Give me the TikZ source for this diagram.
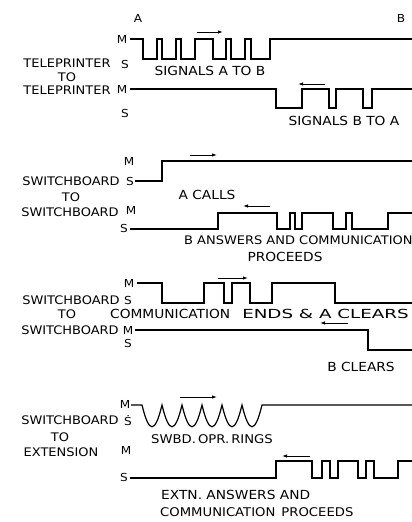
\documentclass[tikz,border=0pt]{standalone}
\usepackage{fontspec}
\usepackage{graphicx}
\setmainfont{DejaVu Sans}
\usetikzlibrary{arrows.meta}
\newfontfamily\lettering[FakeStretch=1.1]{DejaVu Sans}

\begin{document}
\begin{tikzpicture}[x=1pt, y=-1pt,
  wave/.style={line width=1.2pt, line join=miter},
  dirarrow/.style={line width=0.9pt, -{Latex[length=5pt,width=3.5pt]}},
  ms/.style={font=\lettering\fontsize{11}{12}\selectfont, inner sep=0pt},
  side/.style={font=\lettering\fontsize{11.8}{13}\selectfont, inner sep=0pt},
  note/.style={font=\lettering\fontsize{12.5}{13}\selectfont, inner sep=0pt}
]
  \useasboundingbox (0,0) rectangle (412,522);
  % Ends
  \node[ms] (enda) at (138,18) {A};
  \node[ms] (endb) at (401,18) {B};

  % Teleprinter to teleprinter
  \node[side] (tp1) at (67,63) {TELEPRINTER};
  \node[side] (tp2) at (67,77) {TO};
  \node[side] (tp3) at (67,90) {TELEPRINTER};
  \node[ms] (m1) at (122,39) {M};
  \node[ms] (s1) at (125,64) {S};
  \node[ms] (m2) at (122,89) {M};
  \node[ms] (s2) at (125,113) {S};
  \draw[wave] (130,39) -| (143,59) -| (157,39) -| (162,59) -| (176,39) -| (181,59) -| (195,39)
    -| (213,59) -| (226,39) -| (231,59) -| (245,39) -| (251,59) -| (270,39) -- (412,39);
  \draw[wave] (130,89) -| (276,108) -| (302,89) -| (329,108) -| (336,89) -| (363,108) -| (372,89) -- (412,89);
  \draw[dirarrow] (197,32) -- (223,32);
  \draw[dirarrow] (325,84) -- (298,84);
  \node[note] (sigab) at (210,71) {SIGNALS A TO B};
  \node[note] (sigba) at (344,121) {SIGNALS B TO A};

  % Switchboard to switchboard, A calls
  \node[side] (sb1) at (71,181) {SWITCHBOARD};
  \node[side] (sb2) at (71,197) {TO};
  \node[side] (sb3) at (70,212) {SWITCHBOARD};
  \node[ms] (m3) at (129,161) {M};
  \node[ms] (s3) at (130,181) {S};
  \node[ms] (m4) at (131,210) {M};
  \node[ms] (s4) at (124,228) {S};
  \draw[wave] (135,181) -| (162,161) -- (412,161);
  \draw[wave] (130,229) -| (218,213) -| (277,229) -| (290,213) -| (295,229) -| (302,213)
    -| (333,229) -| (346,213) -| (352,229) -| (388,213) -- (412,213);
  \draw[dirarrow] (190,155) -- (217,155);
  \draw[dirarrow] (270,206) -- (243,206);
  \node[note] (acalls) at (207,195) {A CALLS};
  \node[note, font=\lettering\fontsize{11.8}{13}\selectfont, anchor=west] (bans) at (184,240) {B ANSWERS\ AND COMMUNICATION};
  \node[note] (proc1) at (285,257) {PROCEEDS};

  % Switchboard to switchboard, clearing
  \node[side] (sb4) at (71,300) {SWITCHBOARD};
  \node[side] (sb5) at (67,314) {TO};
  \node[side] (sb6) at (70,330) {SWITCHBOARD};
  \node[ms] (m5) at (129,283) {M};
  \node[ms] (s5) at (128,300) {S};
  \node[ms] (m6) at (128,330) {M};
  \node[ms] (s6) at (128,343) {S};
  \draw[wave] (137,283) -| (162,303) -| (204,283) -| (224,303) -| (232,283) -| (250,303)
    -| (272,283) -| (335,303) -- (412,303);
  \draw[wave] (135,330) -| (368,350) -- (412,350);
  \draw[dirarrow] (218,278) -- (248,278);
  \draw[dirarrow] (348,323) -- (320,323);
  \node[note, anchor=west] (aclr) at (110,314) {COMMUNICATION\hspace{12pt}\scalebox{1.33}[1]{ENDS \& A CLEARS}};
  \node[note] (bclr) at (361,367) {B CLEARS};

  % Switchboard to extension
  \node[side] (sx1) at (70,420) {SWITCHBOARD};
  \node[side] (sx2) at (60,437) {TO};
  \node[side] (sx3) at (61,452) {EXTENSION};
  \node[ms] (m7) at (125,404) {M};
  \node[ms] (s7) at (128,421) {\.S};
  \node[ms] (m8) at (126,450) {M};
  \node[ms] (s8) at (124,477) {S};
  \draw[wave] (131,405) -- (142,405)
    \foreach \i in {1,...,6} { .. controls +(7,29) and +(-7,29) .. ++(20,0) }
    -- (412,405);
  \draw[wave] (130,478) -| (276,461) -| (312,478) -| (322,461) -| (330,478) -| (338,461)
    -| (358,478) -| (366,461) -| (374,478) -| (398,461) -- (412,461);
  \draw[dirarrow] (180,397) -- (217,397);
  \draw[dirarrow] (310,456) -- (282,456);
  \node[note, font=\lettering\fontsize{12}{13}\selectfont] (rings) at (212,439) {SWBD.\hspace{2pt}OPR.\hspace{2pt}RINGS};
  \node[note, anchor=west] (extn1) at (161,495) {EXTN. ANSWERS AND};
  \node[note, font=\lettering\fontsize{12}{13}\selectfont, anchor=west] (extn2) at (160,512) {COMMUNICATION\hspace{6pt}PROCEEDS};
\end{tikzpicture}
\end{document}
